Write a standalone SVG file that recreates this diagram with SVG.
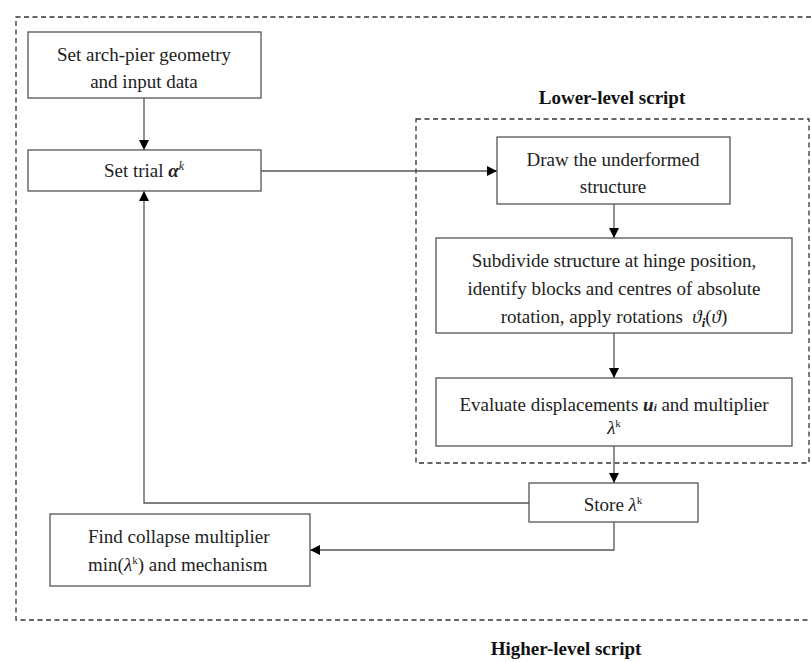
<svg xmlns="http://www.w3.org/2000/svg" width="811" height="662" viewBox="0 0 811 662">
<defs>
<style>
.t{font-family:"Liberation Serif","DejaVu Serif",serif;font-size:19px;fill:#222;}
.h{font-family:"Liberation Serif","DejaVu Serif",serif;font-size:19px;font-weight:bold;fill:#111;}
.box{fill:#fff;stroke:#555;stroke-width:1.3;}
.dash{fill:none;stroke:#333;stroke-width:1.3;stroke-dasharray:5 3.5;}
.ln{fill:none;stroke:#555;stroke-width:1.3;}
</style>
<marker id="ah" markerWidth="10" markerHeight="10" refX="10" refY="5" orient="auto" markerUnits="userSpaceOnUse">
<path d="M0,0 L10,5 L0,10 Z" fill="#000"/>
</marker>
</defs>
<rect width="811" height="662" fill="#fff"/>
<path class="dash" d="M811,17 H16 V620 H811"/>
<rect class="dash" x="416" y="119" width="393" height="344"/>
<text class="h" x="612" y="104" text-anchor="middle">Lower-level script</text>
<text class="h" x="566" y="655" text-anchor="middle">Higher-level script</text>
<g id="connectors">
<path class="ln" d="M144,98 V150" marker-end="url(#ah)"/>
<path class="ln" d="M261,171 H497" marker-end="url(#ah)"/>
<path class="ln" d="M614,204 V238" marker-end="url(#ah)"/>
<path class="ln" d="M614,333 V378" marker-end="url(#ah)"/>
<path class="ln" d="M614,446 V483" marker-end="url(#ah)"/>
<path class="ln" d="M529,503 H144 V191" marker-end="url(#ah)"/>
<path class="ln" d="M614,522 V550 H310" marker-end="url(#ah)"/>
</g>
<g id="n1">
<rect class="box" x="28" y="32" width="233" height="66"/>
<text class="t" x="144" y="61" text-anchor="middle">Set arch-pier geometry</text>
<text class="t" x="144" y="88" text-anchor="middle">and input data</text>
</g>
<g id="n2">
<rect class="box" x="28" y="150" width="233" height="41"/>
<text class="t" x="144" y="177" text-anchor="middle">Set trial <tspan font-weight="bold" font-style="italic">α</tspan><tspan font-style="italic" font-size="12" dy="-7">k</tspan></text>
</g>
<g id="n3">
<rect class="box" x="497" y="137" width="233" height="67"/>
<text class="t" x="613" y="166" text-anchor="middle">Draw the underformed</text>
<text class="t" x="613" y="193" text-anchor="middle">structure</text>
</g>
<g id="n4">
<rect class="box" x="436" y="238" width="356" height="95"/>
<text class="t" x="614" y="267" text-anchor="middle">Subdivide structure at hinge position,</text>
<text class="t" x="614" y="295" text-anchor="middle">identify blocks and centres of absolute</text>
<text class="t" x="614" y="323" text-anchor="middle">rotation, apply rotations &#160;<tspan font-style="italic">ϑ</tspan><tspan font-style="italic" font-weight="bold" font-size="13" dy="4">i</tspan><tspan dy="-4">(</tspan><tspan font-style="italic">ϑ</tspan>)</text>
</g>
<g id="n5">
<rect class="box" x="436" y="378" width="356" height="68"/>
<text class="t" x="614" y="411" text-anchor="middle">Evaluate displacements <tspan font-style="italic" font-weight="bold">u</tspan><tspan font-style="italic" font-weight="bold" font-size="11">i</tspan> and multiplier</text>
<text class="t" x="614" y="434" text-anchor="middle"><tspan font-style="italic">λ</tspan><tspan font-size="11" dy="-7">k</tspan></text>
</g>
<g id="n6">
<rect class="box" x="529" y="483" width="169" height="39"/>
<text class="t" x="613" y="511" text-anchor="middle">Store <tspan font-style="italic">λ</tspan><tspan font-size="11" dy="-7">k</tspan></text>
</g>
<g id="n7">
<rect class="box" x="50" y="514" width="260" height="72"/>
<text class="t" x="88" y="543">Find collapse multiplier</text>
<text class="t" x="88" y="571">min(<tspan font-style="italic">λ</tspan><tspan font-size="11" dy="-7">k</tspan><tspan dy="7">) and mechanism</tspan></text>
</g>
</svg>
